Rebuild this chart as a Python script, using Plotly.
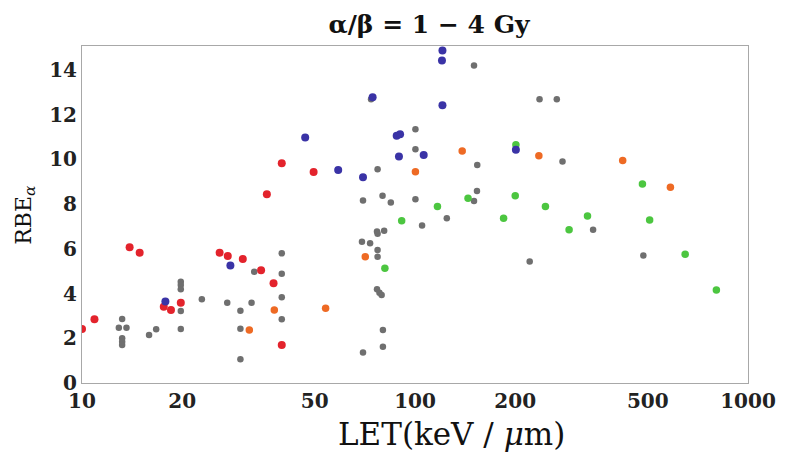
import plotly.graph_objects as go

# LET (keV/um) and RBE_alpha values for each data group
let_gray = [13.2, 12.9, 13.6, 13.2, 13.2, 13.2, 15.9, 16.7, 19.8, 19.8, 19.8, 19.8, 19.8,
            22.9, 27.3, 29.9, 29.9, 29.9, 32.3, 32.9, 39.8, 39.8, 39.8, 39.8,
            69.3, 73.3, 76.9, 77.2, 80.8, 77.2, 77.2, 76.9, 78.2, 79.4, 80.1, 80.1, 69.8,
            105.0, 124.6, 73.8, 150.4, 100.3, 100.3, 77.2, 153.8, 69.8, 79.9, 84.6, 100.3,
            150.4, 153.5, 236.6, 266.6, 277.3, 342.6, 221.0, 485.0]
rbe_gray = [2.86, 2.47, 2.47, 2.00, 1.85, 1.70, 2.15, 2.40, 4.53, 4.38, 4.19, 3.22, 2.42,
            3.74, 3.59, 3.23, 2.43, 1.06, 3.59, 4.97, 5.80, 4.88, 3.83, 2.85,
            6.32, 6.25, 6.77, 6.67, 6.81, 5.95, 5.65, 4.19, 4.04, 3.94, 2.37, 1.62, 1.36,
            7.04, 7.37, 12.69, 14.20, 11.35, 10.45, 9.56, 9.75, 8.16, 8.37, 8.07, 8.22,
            8.14, 8.59, 12.69, 12.69, 9.90, 6.85, 5.43, 5.70]

let_orange = [37.8, 31.8, 53.9, 70.9, 138.6, 100.3, 235.5, 420.4, 584.8]
rbe_orange = [3.27, 2.37, 3.34, 5.65, 10.38, 9.45, 10.16, 9.95, 8.75]

let_green = [81.2, 91.2, 184.5, 116.8, 144.3, 200.9, 200.0, 246.4, 329.6, 481.9, 506.6,
             290.2, 647.6, 803.6]
rbe_green = [5.13, 7.25, 7.37, 7.89, 8.26, 10.65, 8.37, 7.89, 7.47, 8.90, 7.29,
             6.85, 5.76, 4.16]

let_red = [10.0, 10.9, 13.9, 14.9, 17.6, 18.5, 19.8, 25.9, 27.4, 30.4, 34.5, 37.6, 39.8,
           39.8, 35.9, 49.6]
rbe_red = [2.42, 2.85, 6.07, 5.83, 3.41, 3.27, 3.59, 5.83, 5.68, 5.55, 5.04, 4.46, 1.70,
           9.83, 8.44, 9.43]

let_blue = [17.8, 27.9, 46.8, 58.8, 69.8, 74.6, 88.1, 90.2, 89.5, 106.2, 120.9, 120.5,
            120.9, 200.9]
rbe_blue = [3.64, 5.25, 10.98, 9.53, 9.20, 12.78, 11.06, 11.12, 10.13, 10.20, 14.87, 14.42,
            12.42, 10.43]

x_ticks = [10, 20, 50, 100, 200, 500, 1000]
y_ticks = [0, 2, 4, 6, 8, 10, 12, 14]

series = [
    (let_gray, rbe_gray, "#6f6f6f", 6.5),
    (let_orange, rbe_orange, "#ee6a24", 7.5),
    (let_green, rbe_green, "#4cc640", 7.5),
    (let_red, rbe_red, "#e3232c", 8),
    (let_blue, rbe_blue, "#3a33a6", 8),
]

fig = go.Figure()
for xs, ys, col, sz in series:
    fig.add_trace(go.Scatter(x=xs, y=ys, mode="markers",
                             marker=dict(color=col, size=sz, line=dict(width=0)),
                             showlegend=False, hoverinfo="skip"))

tick_font = dict(family="DejaVu Serif", size=20, color="#222222", weight="bold")
axis_common = dict(showline=True, mirror=True, linecolor="#a8a8a8", linewidth=1,
                   showgrid=False, zeroline=False, ticks="", tickfont=tick_font)

fig.update_layout(
    width=788, height=453,
    margin=dict(l=82, r=31, t=46, b=70),
    paper_bgcolor="white", plot_bgcolor="white",
    xaxis=dict(type="log", range=[1, 3], tickvals=x_ticks,
               ticktext=[str(v) for v in x_ticks], **axis_common),
    yaxis=dict(range=[0, 15.07], tickvals=y_ticks,
               ticktext=[str(v) for v in y_ticks], **axis_common),
    title=dict(text="α/β = 1 − 4 Gy", x=429 / 788,
               xref="container", xanchor="center",
               y=1 - 24 / 453, yanchor="middle", yref="container",
               font=dict(family="DejaVu Serif", size=25, color="#111111", weight="bold")),
)

fig.add_annotation(text="LET(keV / <i>μ</i>m)", xref="paper", yref="paper",
                   x=(456 - 82) / 675, y=-(434 - 383) / 337, xanchor="center",
                   yanchor="middle", showarrow=False,
                   font=dict(family="DejaVu Serif", size=31, color="#111111"))
fig.add_annotation(text="RBE<sub><i>α</i></sub>", xref="paper", yref="paper",
                   x=-(82 - 24) / 675, y=(383 - 215) / 337, xanchor="center",
                   yanchor="middle", textangle=-90, showarrow=False,
                   font=dict(family="DejaVu Serif", size=22, color="#111111"))

fig.write_html("out.html")
